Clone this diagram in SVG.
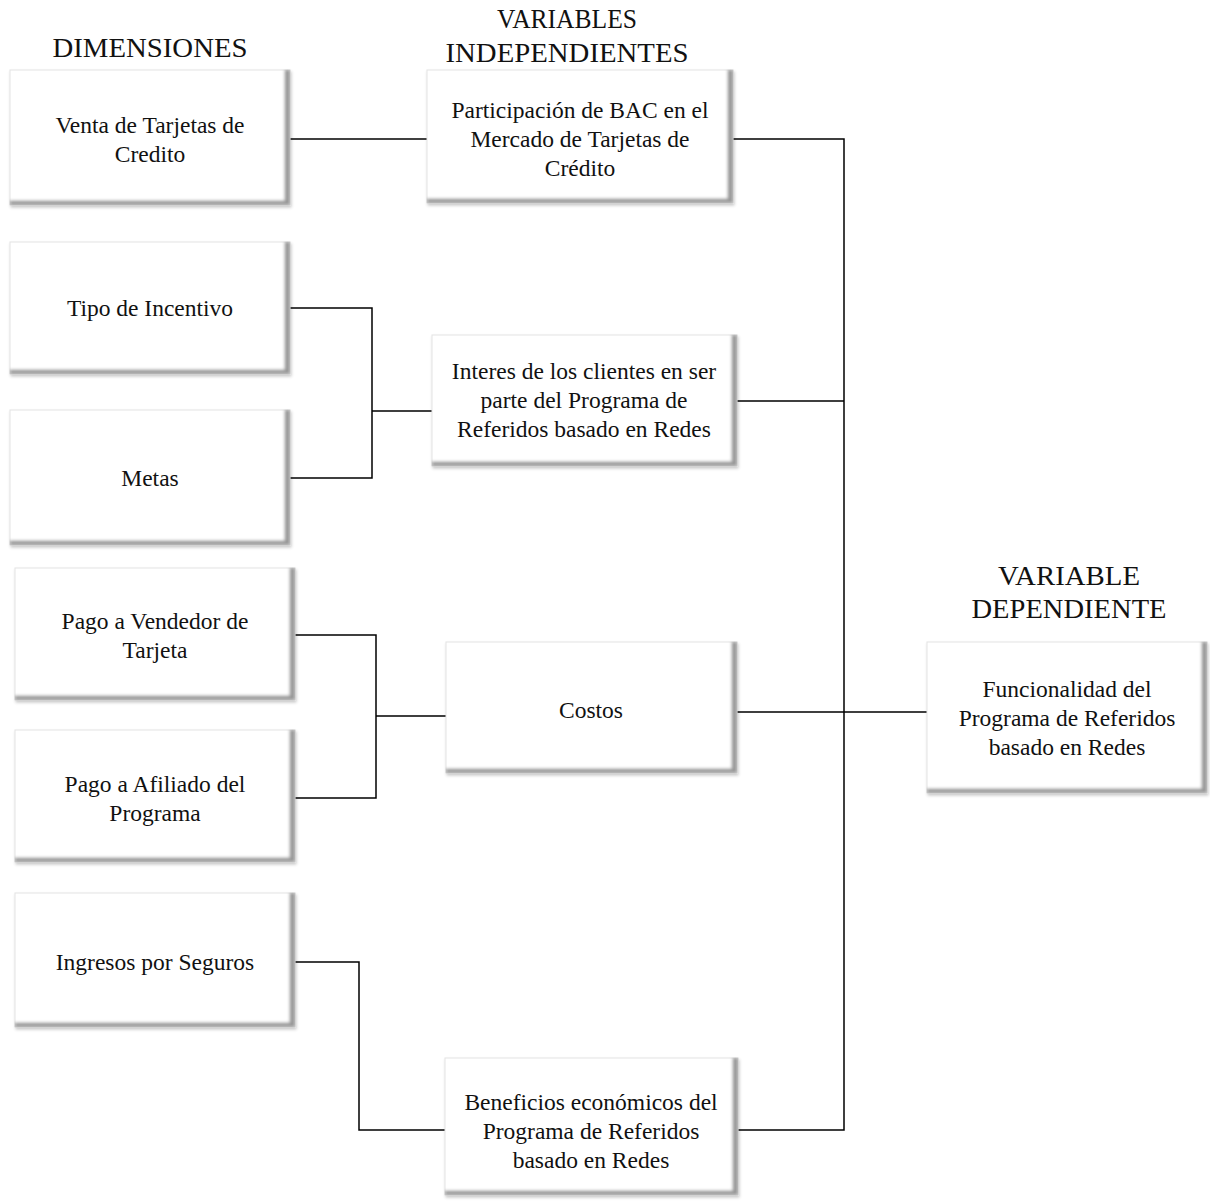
<svg xmlns="http://www.w3.org/2000/svg" width="1210" height="1202" viewBox="0 0 1210 1202">
  <style>
    .box { fill: #ffffff; stroke: #e4e4e4; stroke-width: 1; filter: url(#bevel); }
    .lbl { font-family: "Liberation Serif", "Times New Roman", serif; font-size: 23.5px; fill: #111; text-anchor: middle; }
    .hdr { font-family: "Liberation Serif", "Times New Roman", serif; font-size: 27px; fill: #111; text-anchor: middle; }
    .wire { fill: none; stroke: #000; stroke-width: 1.5; }
  </style>
  <defs>
    <!-- raised bevel: grey inner band on right/bottom plus a soft outer shadow -->
    <filter id="bevel" x="-5%" y="-8%" width="112%" height="118%">
      <feOffset in="SourceAlpha" dx="-6" dy="-5" result="off"/>
      <feComposite in="SourceAlpha" in2="off" operator="out" result="edge"/>
      <feGaussianBlur in="edge" stdDeviation="1.6" result="edgeBlur"/>
      <feComposite in="edgeBlur" in2="SourceAlpha" operator="in" result="inner"/>
      <feFlood flood-color="#7a7a7a" flood-opacity="0.85"/>
      <feComposite in2="inner" operator="in" result="shade"/>
      <feGaussianBlur in="SourceAlpha" stdDeviation="1.5" result="sb"/>
      <feOffset in="sb" dx="1" dy="2" result="so"/>
      <feFlood flood-color="#000" flood-opacity="0.22"/>
      <feComposite in2="so" operator="in" result="drop"/>
      <feMerge>
        <feMergeNode in="drop"/>
        <feMergeNode in="SourceGraphic"/>
        <feMergeNode in="shade"/>
      </feMerge>
    </filter>
  </defs>

  <rect width="1210" height="1202" fill="#ffffff"/>

  <!-- column headings -->
  <g id="headings">
    <text class="hdr" x="150" y="57" textLength="195" lengthAdjust="spacingAndGlyphs">DIMENSIONES</text>
    <text class="hdr" x="567" y="28" textLength="140" lengthAdjust="spacingAndGlyphs">VARIABLES</text>
    <text class="hdr" x="567" y="62" textLength="243" lengthAdjust="spacingAndGlyphs">INDEPENDIENTES</text>
    <text class="hdr" x="1069" y="585" textLength="142" lengthAdjust="spacingAndGlyphs">VARIABLE</text>
    <text class="hdr" x="1069" y="618" textLength="195" lengthAdjust="spacingAndGlyphs">DEPENDIENTE</text>
  </g>

  <!-- connectors -->
  <g id="connectors">
    <path class="wire" d="M290 139 H427"/>
    <path class="wire" d="M290 308 H372 V478 H290 M372 411 H432"/>
    <path class="wire" d="M295 635 H376 V798 H295 M376 716 H446"/>
    <path class="wire" d="M295 962 H359 V1130 H445"/>
    <path class="wire" d="M733 139 H844 V1130 H738 M737 401 H844 M737 712 H927"/>
  </g>

  <!-- dimensions -->
  <g id="venta">
    <rect class="box" x="10" y="70" width="280" height="135"/>
    <text class="lbl" x="150" y="133">Venta de Tarjetas de</text>
    <text class="lbl" x="150" y="162">Credito</text>
  </g>
  <g id="tipo">
    <rect class="box" x="10" y="242" width="280" height="132"/>
    <text class="lbl" x="150" y="316">Tipo de Incentivo</text>
  </g>
  <g id="metas">
    <rect class="box" x="10" y="410" width="280" height="135"/>
    <text class="lbl" x="150" y="486">Metas</text>
  </g>
  <g id="pago-vendedor">
    <rect class="box" x="15" y="568" width="280" height="132"/>
    <text class="lbl" x="155" y="629">Pago a Vendedor de</text>
    <text class="lbl" x="155" y="658">Tarjeta</text>
  </g>
  <g id="pago-afiliado">
    <rect class="box" x="15" y="730" width="280" height="132"/>
    <text class="lbl" x="155" y="792">Pago a Afiliado del</text>
    <text class="lbl" x="155" y="821">Programa</text>
  </g>
  <g id="ingresos">
    <rect class="box" x="15" y="893" width="280" height="134"/>
    <text class="lbl" x="155" y="970">Ingresos por Seguros</text>
  </g>

  <!-- independent variables -->
  <g id="participacion">
    <rect class="box" x="427" y="70" width="306" height="133"/>
    <text class="lbl" x="580" y="118">Participación de BAC en el</text>
    <text class="lbl" x="580" y="147">Mercado de Tarjetas de</text>
    <text class="lbl" x="580" y="176">Crédito</text>
  </g>
  <g id="interes">
    <rect class="box" x="432" y="335" width="305" height="131"/>
    <text class="lbl" x="584" y="379">Interes de los clientes en ser</text>
    <text class="lbl" x="584" y="408">parte del Programa de</text>
    <text class="lbl" x="584" y="437">Referidos basado en Redes</text>
  </g>
  <g id="costos">
    <rect class="box" x="446" y="642" width="291" height="131"/>
    <text class="lbl" x="591" y="718">Costos</text>
  </g>
  <g id="beneficios">
    <rect class="box" x="445" y="1058" width="293" height="137"/>
    <text class="lbl" x="591" y="1110">Beneficios económicos del</text>
    <text class="lbl" x="591" y="1139">Programa de Referidos</text>
    <text class="lbl" x="591" y="1168">basado en Redes</text>
  </g>

  <!-- dependent variable -->
  <g id="funcionalidad">
    <rect class="box" x="927" y="642" width="280" height="151"/>
    <text class="lbl" x="1067" y="697">Funcionalidad del</text>
    <text class="lbl" x="1067" y="726">Programa de Referidos</text>
    <text class="lbl" x="1067" y="755">basado en Redes</text>
  </g>
</svg>
